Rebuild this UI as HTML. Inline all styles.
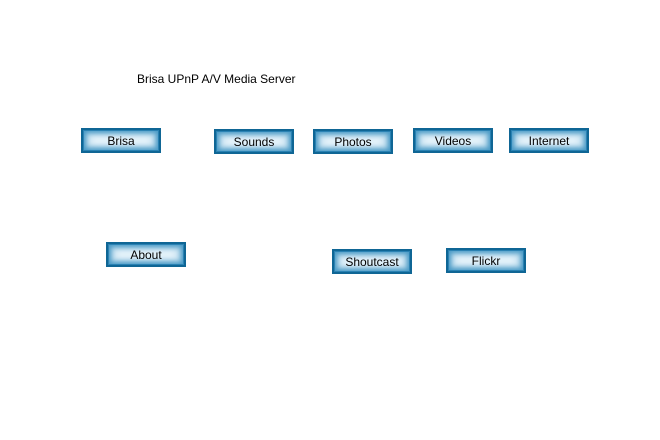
<!DOCTYPE html>
<html><head><style>
body{margin:0;width:660px;height:440px;background:#fff;position:relative;font-family:"Liberation Sans",sans-serif;overflow:hidden}
.t{position:absolute;left:137px;top:72px;font-size:12px;color:#000}
.b{position:absolute;width:80px;height:25px;box-sizing:border-box;background:#f4fbff;
box-shadow:inset 0 0 0 2px #0f6695,inset 0 0 0 3px #2a82b3,inset 0 0 5px 5px #4a9ac6,inset 0 0 8px 8px #a8d0e6;
font-size:12px;text-align:center;line-height:27px;color:#000}
</style></head><body>
<div class="t">Brisa UPnP A/V Media Server</div>
<div class="b" style="left:81px;top:128px">Brisa</div>
<div class="b" style="left:214px;top:129px">Sounds</div>
<div class="b" style="left:313px;top:129px">Photos</div>
<div class="b" style="left:413px;top:128px">Videos</div>
<div class="b" style="left:509px;top:128px">Internet</div>
<div class="b" style="left:106px;top:242px">About</div>
<div class="b" style="left:332px;top:249px">Shoutcast</div>
<div class="b" style="left:446px;top:248px">Flickr</div>
</body></html>
